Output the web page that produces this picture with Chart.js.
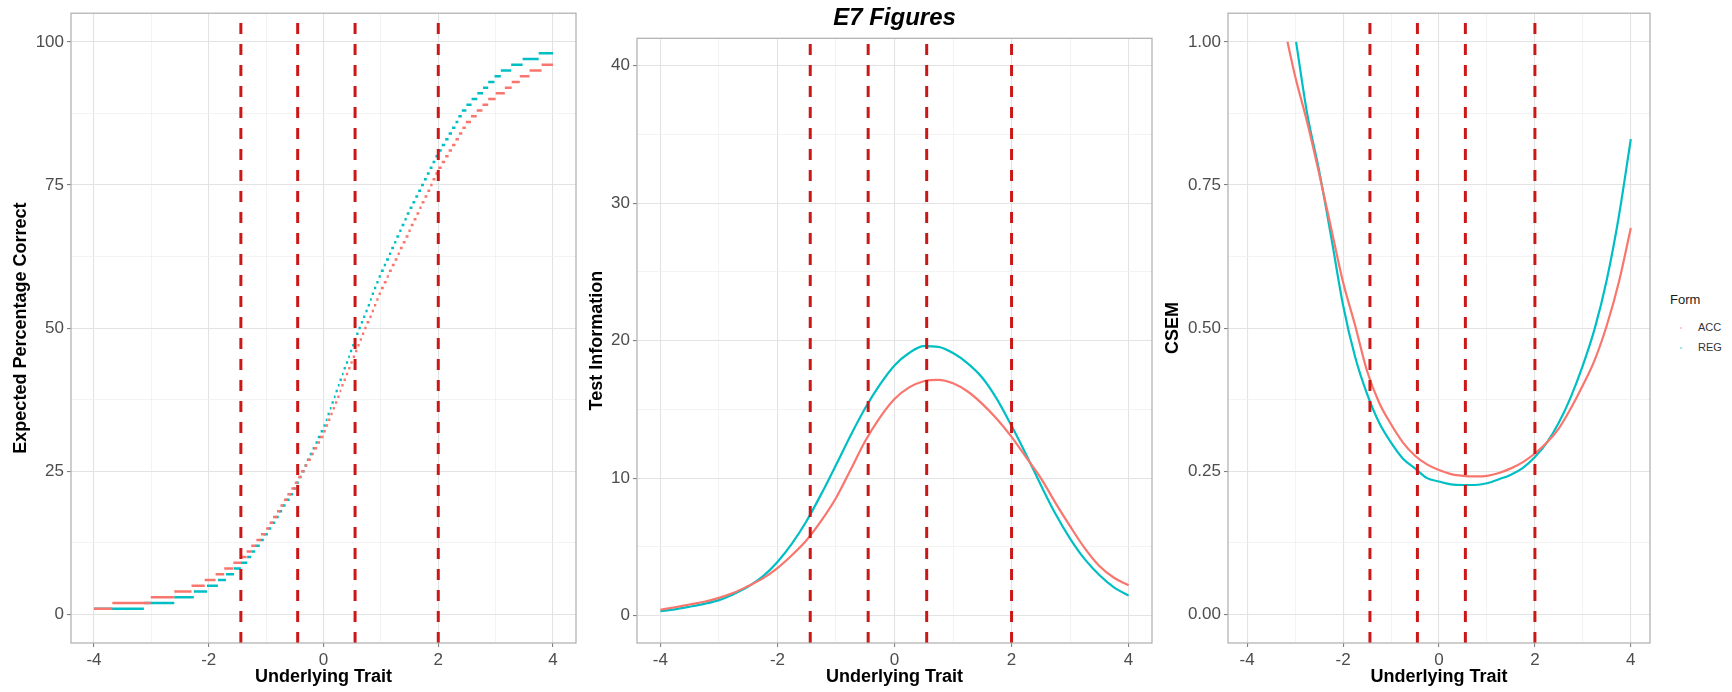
<!DOCTYPE html>
<html>
<head>
<meta charset="utf-8">
<script src="https://cdn.jsdelivr.net/npm/chart.js@4.4.1/dist/chart.umd.min.js"></script>
<style>
  body { margin: 0; background: #fff; width: 1732px; height: 692px; overflow: hidden; position: relative;
         font-family: 'Liberation Sans', Arial, sans-serif; }
  .panel { position: absolute; top: 0; }
  .lg { position: absolute; white-space: nowrap; line-height: 1; }
  .dot { position: absolute; width: 2px; height: 2px; border-radius: 1px; opacity: .5; }
</style>
</head>
<body>
<div class="panel" style="left:0"><canvas id="c1" width="580" height="692"></canvas></div>
<div class="panel" style="left:580px"><canvas id="c2" width="580" height="692"></canvas></div>
<div class="panel" style="left:1160px"><canvas id="c3" width="500" height="692"></canvas></div>

<div class="lg" style="left:1670px;top:293px;font-size:13px;color:#1a1a1a">Form</div>
<span class="dot" style="left:1680px;top:327px;background:#F8766D"></span>
<div class="lg" style="left:1698px;top:322px;font-size:11px;color:#333">ACC</div>
<span class="dot" style="left:1680px;top:347px;background:#00BFC4"></span>
<div class="lg" style="left:1698px;top:342px;font-size:11px;color:#333">REG</div>

<script>
// form colours (ggplot defaults)
const accColor = '#F8766D';
const regColor = '#00BFC4';
const cutColor = '#CC1717';

// cut scores (dashed verticals)
const cutScores = [-1.44, -0.45, 0.55, 2.0];

// axis ticks
const xMajor = [-4, -2, 0, 2, 4];
const pctTicks = [0, 25, 50, 75, 100];
const infoTicks = [0, 10, 20, 30, 40];
const csemTicks = [0, 0.25, 0.5, 0.75, 1];

// panel 1: theta where each expected-percent level starts (level 1, 2, 3 ...)
const accStepStart = [
  -4.00, -3.68, -3.01, -2.60, -2.30, -2.07, -1.88, -1.73, -1.57, -1.43,
  -1.34, -1.26, -1.17, -1.09, -1.00, -0.94, -0.88, -0.81, -0.75, -0.69,
  -0.63, -0.56, -0.50, -0.44, -0.39, -0.33, -0.28, -0.22, -0.17, -0.11,
  -0.06, 0.00, 0.04, 0.08, 0.12, 0.16, 0.20, 0.24, 0.28, 0.31,
  0.35, 0.39, 0.43, 0.47, 0.51, 0.55, 0.59, 0.63, 0.67, 0.71,
  0.75, 0.80, 0.84, 0.88, 0.92, 0.96, 1.00, 1.05, 1.10, 1.14,
  1.19, 1.24, 1.29, 1.33, 1.38, 1.43, 1.48, 1.52, 1.57, 1.62,
  1.67, 1.71, 1.76, 1.81, 1.86, 1.90, 1.95, 2.00, 2.06, 2.12,
  2.18, 2.24, 2.30, 2.36, 2.42, 2.48, 2.57, 2.67, 2.77, 2.87,
  3.00, 3.16, 3.28, 3.42, 3.59, 3.80
];
const regStepStart = [
  -4.00, -3.13, -2.60, -2.26, -2.03, -1.84, -1.70, -1.56, -1.44, -1.33,
  -1.26, -1.19, -1.11, -1.04, -0.97, -0.91, -0.84, -0.78, -0.72, -0.66,
  -0.59, -0.53, -0.48, -0.43, -0.38, -0.33, -0.29, -0.24, -0.19, -0.14,
  -0.10, -0.05, 0.00, 0.04, 0.07, 0.11, 0.14, 0.18, 0.21, 0.25,
  0.28, 0.32, 0.35, 0.39, 0.43, 0.46, 0.50, 0.53, 0.57, 0.61,
  0.65, 0.69, 0.73, 0.77, 0.81, 0.84, 0.88, 0.92, 0.96, 1.00,
  1.05, 1.09, 1.14, 1.18, 1.23, 1.27, 1.32, 1.36, 1.41, 1.45,
  1.50, 1.55, 1.60, 1.65, 1.70, 1.75, 1.80, 1.85, 1.90, 1.95,
  2.00, 2.06, 2.12, 2.18, 2.24, 2.30, 2.35, 2.41, 2.49, 2.58,
  2.68, 2.78, 2.87, 2.98, 3.09, 3.27, 3.47, 3.75
];
const stepEnd = 4.0;

// panel 2: test information
const infoTheta = [-4, -3.75, -3.5, -3.25, -3, -2.75, -2.5, -2.25, -2, -1.75, -1.5, -1.25, -1, -0.75, -0.5, -0.25,
  0, 0.25, 0.5, 0.75, 1, 1.25, 1.5, 1.75, 2, 2.25, 2.5, 2.75, 3, 3.25, 3.5, 3.75, 4];
const accInfo = [0.42, 0.6, 0.8, 1.0, 1.28, 1.65, 2.15, 2.7, 3.45, 4.4, 5.5, 6.9, 8.55, 10.6, 12.7, 14.4,
  15.75, 16.6, 17.05, 17.15, 16.9, 16.3, 15.4, 14.3, 13.0, 11.5, 10.0, 8.2, 6.5, 4.9, 3.6, 2.75, 2.2];
const regInfo = [0.32, 0.45, 0.64, 0.85, 1.12, 1.55, 2.1, 2.85, 3.9, 5.25, 6.9, 8.85, 10.95, 13.1, 15.1, 16.8,
  18.2, 19.1, 19.6, 19.55, 19.1, 18.35, 17.3, 15.75, 13.8, 11.7, 9.5, 7.4, 5.6, 4.1, 2.95, 2.05, 1.45];

// panel 3: CSEM (curves clipped at 1.00)
const accCsemTheta = [-3.16, -3, -2.75, -2.5, -2.25, -2, -1.75, -1.5, -1.25, -1, -0.75, -0.5, -0.25,
  0, 0.25, 0.5, 0.75, 1, 1.25, 1.5, 1.75, 2, 2.25, 2.5, 2.75, 3, 3.25, 3.5, 3.75, 4];
const accCsem = [1.0, 0.94, 0.86, 0.77, 0.675, 0.58, 0.505, 0.425, 0.37, 0.332, 0.30, 0.277, 0.262,
  0.252, 0.245, 0.242, 0.241, 0.242, 0.247, 0.255, 0.266, 0.281, 0.30, 0.325, 0.36, 0.40, 0.445, 0.505, 0.58, 0.675];
const regCsemTheta = [-2.98, -2.75, -2.5, -2.25, -2, -1.75, -1.5, -1.25, -1, -0.75, -0.5, -0.25,
  0, 0.25, 0.5, 0.75, 1, 1.25, 1.5, 1.75, 2, 2.25, 2.5, 2.75, 3, 3.25, 3.5, 3.75, 4];
const regCsem = [1.0, 0.875, 0.775, 0.66, 0.54, 0.45, 0.385, 0.335, 0.30, 0.272, 0.255, 0.238,
  0.232, 0.227, 0.226, 0.226, 0.229, 0.236, 0.244, 0.256, 0.275, 0.30, 0.335, 0.38, 0.435, 0.50, 0.585, 0.695, 0.83];

Chart.defaults.font.family = "'Liberation Sans', Arial, sans-serif";
Chart.defaults.animation = false;

// major ticks plus ggplot-style minor breaks halfway between
function withMinor(major) {
  const out = [];
  major.forEach((v, i) => {
    out.push(v);
    if (i < major.length - 1) out.push((v + major[i + 1]) / 2);
  });
  return out;
}

function stepPoints(starts) {
  const pts = [];
  starts.forEach((s, i) => {
    const e = i < starts.length - 1 ? starts[i + 1] : stepEnd;
    pts.push({x: s, y: i + 1}, {x: e, y: i + 1}, {x: e, y: null});
  });
  return pts;
}

function zip(xs, ys) {
  return xs.map((x, i) => ({x: x, y: ys[i]}));
}

function cutLines(yMin, yMax) {
  return cutScores.map(c => ({
    data: [{x: c, y: yMin}, {x: c, y: yMax}],
    borderColor: cutColor, borderWidth: 3, borderDash: [11, 10],
    pointRadius: 0, tension: 0
  }));
}

const panelBorder = {
  id: 'panelBorder',
  afterDraw(chart) {
    const {ctx, chartArea: a} = chart;
    ctx.save();
    ctx.strokeStyle = '#ADADAD';
    ctx.lineWidth = 1.2;
    ctx.strokeRect(a.left, a.top, a.right - a.left, a.bottom - a.top);
    ctx.restore();
  }
};

function scales(o) {
  const xAll = withMinor(xMajor);
  const yAll = withMinor(o.yMajor);
  const gridOpts = major => ({
    color: c => major.includes(c.tick.value) ? '#E3E3E3' : '#F0F0F0',
    lineWidth: c => major.includes(c.tick.value) ? 1.1 : 0.8,
    tickColor: c => major.includes(c.tick.value) ? '#808080' : 'rgba(0,0,0,0)',
    tickLength: 4
  });
  return {
    x: {
      type: 'linear', min: -4.4, max: 4.4,
      afterBuildTicks: s => { s.ticks = xAll.map(v => ({value: v})); },
      afterFit: s => { s.height = 49; },
      border: {display: false},
      grid: gridOpts(xMajor),
      ticks: {
        autoSkip: false, maxRotation: 0, padding: 3, color: '#4D4D4D', font: {size: 17},
        callback: v => xMajor.includes(v) ? String(v) : ''
      },
      title: {display: true, text: 'Underlying Trait', color: '#000',
        font: {size: 18, weight: 'bold'}, padding: {top: 0, bottom: 4}}
    },
    y: {
      min: o.yMin, max: o.yMax,
      afterBuildTicks: s => { s.ticks = yAll.map(v => ({value: v})); },
      afterFit: s => { s.width = o.yWidth; },
      border: {display: false},
      grid: gridOpts(o.yMajor),
      ticks: {
        autoSkip: false, padding: 3, color: '#4D4D4D', font: {size: 17},
        callback: v => o.yMajor.includes(v) ? o.fmt(v) : ''
      },
      title: {display: true, text: o.yTitle, color: '#000',
        font: {size: 18, weight: 'bold'}, padding: {top: o.titlePad, bottom: 0}}
    }
  };
}

function curve(label, pts, color, extra) {
  return Object.assign({label: label, data: pts, borderColor: color, backgroundColor: color,
    borderWidth: 2.2, pointRadius: 0, fill: false}, extra);
}

// panel 1: expected percentage correct
new Chart(document.getElementById('c1'), {
  type: 'line',
  data: {
    datasets: cutLines(-5, 105).concat([
      curve('ACC', stepPoints(accStepStart), accColor, {borderWidth: 2.5, spanGaps: false, tension: 0}),
      curve('REG', stepPoints(regStepStart), regColor, {borderWidth: 2.5, spanGaps: false, tension: 0})
    ])
  },
  options: {
    responsive: false,
    layout: {padding: {top: 9, right: 4, bottom: 0, left: 0}},
    plugins: {legend: {display: false}, tooltip: {enabled: false}},
    scales: scales({yMin: -5, yMax: 105, yMajor: pctTicks, yWidth: 71, titlePad: 10,
      yTitle: 'Expected Percentage Correct', fmt: v => String(v)})
  },
  plugins: [panelBorder]
});

// panel 2: test information
new Chart(document.getElementById('c2'), {
  type: 'line',
  data: {
    datasets: cutLines(-2, 42).concat([
      curve('ACC', zip(infoTheta, accInfo), accColor, {cubicInterpolationMode: 'monotone'}),
      curve('REG', zip(infoTheta, regInfo), regColor, {cubicInterpolationMode: 'monotone'})
    ])
  },
  options: {
    responsive: false,
    layout: {padding: {top: 0, right: 8, bottom: 0, left: 0}},
    plugins: {
      legend: {display: false}, tooltip: {enabled: false},
      title: {display: true, text: 'E7 Figures', color: '#000', fullSize: false,
        font: {size: 24, weight: 'bold', style: 'italic'}, padding: {top: 4, bottom: 5.5}}
    },
    scales: scales({yMin: -2, yMax: 42, yMajor: infoTicks, yWidth: 57, titlePad: 6,
      yTitle: 'Test Information', fmt: v => String(v)})
  },
  plugins: [panelBorder]
});

// panel 3: CSEM
new Chart(document.getElementById('c3'), {
  type: 'line',
  data: {
    datasets: cutLines(-0.05, 1.05).concat([
      curve('ACC', zip(accCsemTheta, accCsem), accColor, {cubicInterpolationMode: 'monotone'}),
      curve('REG', zip(regCsemTheta, regCsem), regColor, {cubicInterpolationMode: 'monotone'})
    ])
  },
  options: {
    responsive: false,
    layout: {padding: {top: 9, right: 10, bottom: 0, left: 0}},
    plugins: {legend: {display: false}, tooltip: {enabled: false}},
    scales: scales({yMin: -0.05, yMax: 1.05, yMajor: csemTicks, yWidth: 68, titlePad: 2,
      yTitle: 'CSEM', fmt: v => v.toFixed(2)})
  },
  plugins: [panelBorder]
});
</script>
</body>
</html>
